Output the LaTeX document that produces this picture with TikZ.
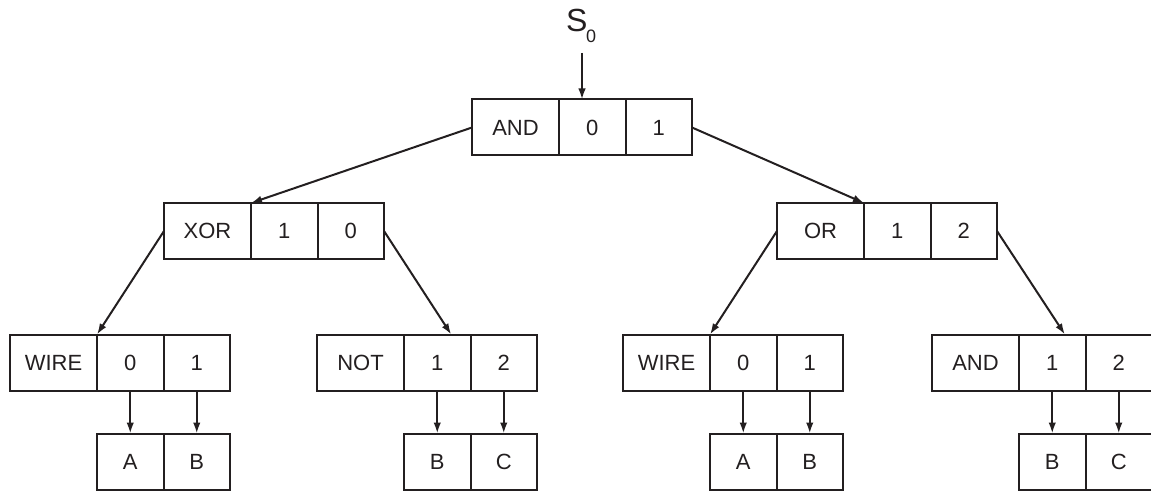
\documentclass[tikz,border=0pt]{standalone}
\usepackage{fontspec}
\setmainfont{Liberation Sans}
\usetikzlibrary{arrows.meta,calc}
\definecolor{ink}{RGB}{35,31,32}
\tikzset{
  cell/.style={draw=ink, line width=2pt, text=ink, inner sep=0pt, outer sep=0pt,
    minimum height=56pt, font=\fontsize{22}{22}\selectfont},
  cellL/.style={cell, minimum width=87pt},
  cellN/.style={cell, minimum width=66.5pt},
  arr/.style={draw=ink, line width=2pt, -{Latex[length=11pt,width=7.5pt]}},
}
\newcommand\myrec[6]{%
  \node[cellL, anchor=east] (#1-l) at (#2,#3) {#4};
  \node[cellN, anchor=west] (#1-a) at (#2,#3) {#5};
  \node[cellN, anchor=west] (#1-b) at (#1-a.east) {#6};
}
\newcommand\myleaf[4]{%
  \node[cellN, anchor=west] (#1-a) at (#2,461.5) {#3};
  \node[cellN, anchor=west] (#1-b) at (#1-a.east) {#4};
}
\begin{document}
\begin{tikzpicture}[x=1pt,y=-1pt]
\useasboundingbox (0,0) rectangle (1151,492);
% S0
\node[anchor=base west, inner sep=0pt, text=ink, font=\fontsize{32}{32}\selectfont] (s0) at (566,32)
  {S\kern-1.5pt\raisebox{-11pt}{\fontsize{18}{18}\selectfont 0}};
\coordinate (sarrow) at (582,53);
% records
\myrec{root}{559}{127.5}{AND}{0}{1}
\myrec{xor}{251}{231}{XOR}{1}{0}
\myrec{or}{864}{231}{OR}{1}{2}
\myrec{wl}{97}{362.5}{WIRE}{0}{1}
\myrec{not}{404}{362.5}{NOT}{1}{2}
\myrec{wr}{710}{362.5}{WIRE}{0}{1}
\myrec{and}{1019}{362.5}{AND}{1}{2}
% leaves
\myleaf{lwl}{97}{A}{B}
\myleaf{lnot}{404}{B}{C}
\myleaf{lwr}{710}{A}{B}
\myleaf{land}{1019}{B}{C}
% connectors
\draw[arr] (sarrow) -- (sarrow |- root-a.north);
\draw[arr] (root-l.west) -- (xor-a.north west);
\draw[arr] (root-b.east) -- (or-a.north west);
\draw[arr] (xor-l.west) -- (wl-a.north west);
\draw[arr] (xor-b.east) -- ($(not-a.north west)!0.71!(not-a.north east)$);
\draw[arr] (or-l.west) -- (wr-a.north west);
\draw[arr] (or-b.east) -- ($(and-a.north west)!0.69!(and-a.north east)$);
\foreach \n/\m in {wl/lwl, not/lnot, wr/lwr, and/land}{
  \draw[arr] (\n-a.south) -- (\m-a.north);
  \draw[arr] (\n-b.south) -- (\m-b.north);
}
\end{tikzpicture}
\end{document}
